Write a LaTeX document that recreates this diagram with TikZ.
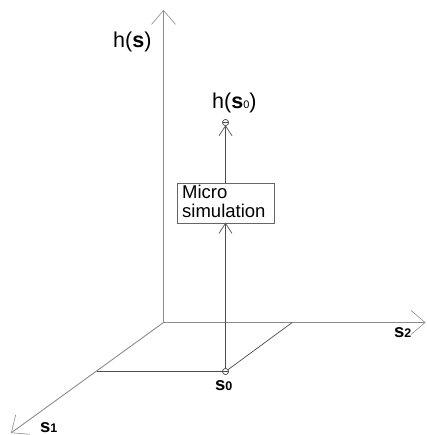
\documentclass[tikz,border=0pt]{standalone}
\usepackage{fontspec}
\setmainfont{Liberation Sans}
\usetikzlibrary{arrows.meta}
\newcommand{\subdig}[1]{{\fontsize{12.5}{13}\selectfont\textbf{#1}}}
\newcommand{\subdigs}[1]{{\fontsize{11}{12}\selectfont #1}}
\begin{document}
\begin{tikzpicture}[x=1pt,y=-1pt,
  axis/.style={draw=black!45, line width=0.9pt},
  axtip/.style={-{Straight Barb[length=14pt,width=24pt,line width=0.6pt]}},
  inner/.style={draw=black!70, line width=0.7pt},
  barb/.style={draw=black!65, line width=0.75pt},
  lab/.style={anchor=base west, inner sep=0pt, font=\fontsize{18.5}{19}\selectfont},
  hlab/.style={anchor=base west, inner sep=0pt, font=\fontsize{21.5}{22}\selectfont},
  dot/.style={circle, draw=black!70, line width=0.6pt, fill=white, minimum size=6pt, inner sep=0pt},
  box/.style={draw=black!60, line width=0.7pt, minimum width=97pt, minimum height=40pt, inner sep=0pt}
]
\useasboundingbox (0,0) rectangle (426,435);
\coordinate (O) at (163.5,322.5);
\coordinate (htop) at (163.5,10);
\coordinate (s2end) at (425.5,322.5);
\coordinate (s1end) at (11,433);
\coordinate (A) at (96.8,371.5);
\coordinate (B) at (292.2,322.5);
\node[dot] (s0) at (225.5,371.5) {};
\node[dot] (hs0) at (225.5,122.5) {};
\node[box] (ms) at (225.5,203) {};
\node[anchor=base west, inner sep=0pt, font=\fontsize{18.5}{19}\selectfont] (mstext1) at (182,199) {Micro};
\node[anchor=base west, inner sep=0pt, font=\fontsize{18.5}{19}\selectfont] (mstext2) at (182,218) {simulation};
% axes
\draw[axis, axtip] (O) -- (htop);
\draw[axis, axtip] (O) -- (s2end);
\draw[axis, axtip] (O) -- (s1end);
% parallelogram
\draw[inner] (A) -- (s0.center);
\draw[inner] (s0.center) -- (B);
\draw[inner] (s0) -- (ms.south);
\draw[inner] (ms.north) -- (hs0.south);
% barbs
\draw[barb] ([xshift=-6.5pt,yshift=-10pt]ms.south) -- (ms.south) -- ([xshift=6.5pt,yshift=-10pt]ms.south);
\draw[barb] ([xshift=-6.5pt,yshift=-10pt]hs0.south) -- (hs0.south) -- ([xshift=6.5pt,yshift=-10pt]hs0.south);
% dots with bar
\node[dot] at (s0) {};
\draw[black!70, line width=0.5pt] ([xshift=-3pt]s0.center) -- ([xshift=3pt]s0.center);
\node[dot] at (hs0) {};
\draw[black!70, line width=0.5pt] ([xshift=-3pt]hs0.center) -- ([xshift=3pt]hs0.center);
% labels
\node[hlab] (lhs) at (113,48) {h(\textbf{s})};
\node[hlab] (lhs0) at (212,109) {h(\textbf{s}\subdigs{0})};
\node[lab] (ls2) at (394,337) {\textbf{s}\subdig{2}};
\node[lab] (ls1) at (40,432) {\textbf{s}\subdig{1}};
\node[lab] (ls0) at (215,390) {\textbf{s}\subdig{0}};
\end{tikzpicture}
\end{document}
